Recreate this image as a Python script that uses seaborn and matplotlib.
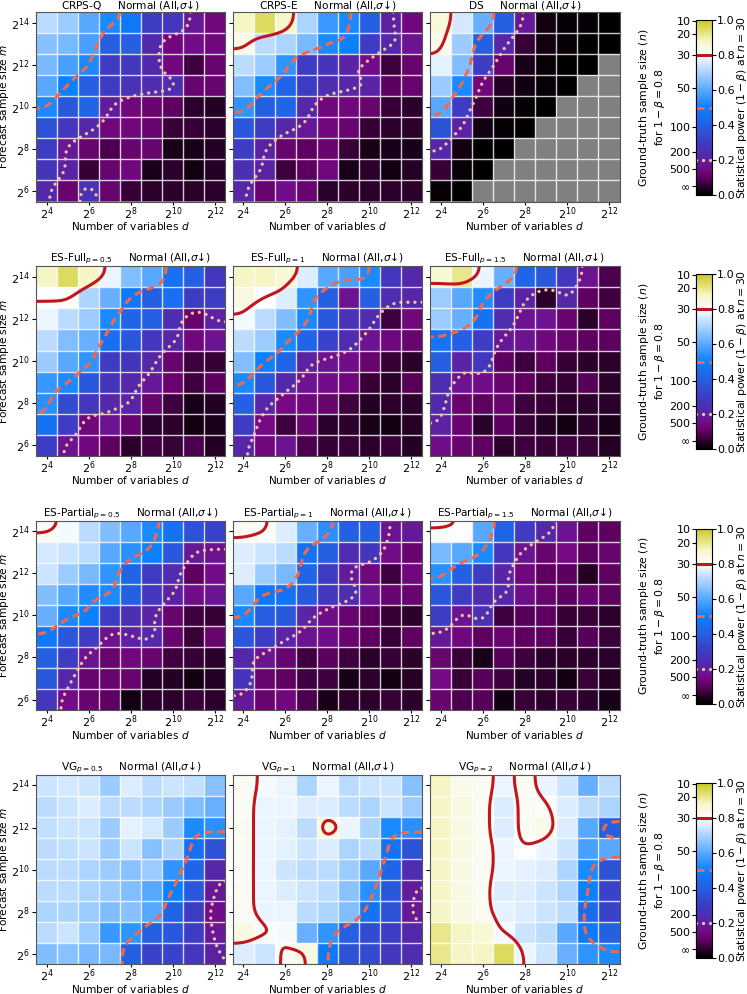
import numpy as np
import pandas as pd
import matplotlib
matplotlib.use("Agg")
import matplotlib.pyplot as plt
from matplotlib.colors import LinearSegmentedColormap, Normalize
from matplotlib.cm import ScalarMappable
import seaborn as sns

# ── Grid ──────────────────────────────────────────────────────────────────────
log2_d = [4, 5, 6, 7, 8, 9, 10, 11, 12]
log2_m = [14, 13, 12, 11, 10, 9, 8, 7, 6]          # top row first

# ── Statistical power (%), rows m=2^14 .. 2^6, cols d=2^4 .. 2^12 ─────────────
crps_q = [[72, 68, 60, 52, 48, 30, 28, 18, 14],
          [66, 64, 58, 40, 40, 23, 14, 16, 14],
          [64, 58, 52, 30, 28, 23, 14,  7, 12],
          [60, 50, 40, 30, 26, 24, 24, 12, 12],
          [52, 38, 42, 19, 14, 12, 10,  5,  4],
          [36, 28, 22, 14, 14, 12,  6,  6,  5],
          [30, 18, 12,  8, 12, 12,  3,  3,  4],
          [27, 20,  6, 12, 14,  3,  5,  2,  4],
          [22, 12, 26, 12,  6,  5,  5,  5,  5]]
crps_e = [[88, 95, 87, 70, 56, 52, 40, 20, 14],
          [83, 72, 70, 64, 52, 50, 30, 22, 17],
          [72, 68, 55, 30, 27, 21, 16,  7, 12],
          [65, 52, 42, 30, 24, 22, 21, 10, 12],
          [55, 40, 42, 22, 14, 14, 12,  6,  5],
          [38, 30, 22, 18, 14, 12,  6,  5,  5],
          [30, 20, 12, 10, 12,  6,  3,  3,  3],
          [25, 20,  7, 10, 14,  3,  5,  2,  4],
          [22, 12, 16, 12,  5,  5,  5,  5,  5]]
ds = [[85, 75, 62, 40, 18,  2,  1,  1,  0],
      [83, 68, 40, 22,  6,  2,  1,  0,  0],
      [77, 65, 30, 12,  3,  1,  0,  0, np.nan],
      [68, 52, 14,  4,  2,  1,  0, np.nan, np.nan],
      [60, 30,  7,  2,  1,  0, np.nan, np.nan, np.nan],
      [37, 20,  2,  1,  0, np.nan, np.nan, np.nan, np.nan],
      [22,  2,  0,  0, np.nan, np.nan, np.nan, np.nan, np.nan],
      [ 6,  1,  0, np.nan, np.nan, np.nan, np.nan, np.nan, np.nan],
      [ 1,  0, np.nan, np.nan, np.nan, np.nan, np.nan, np.nan, np.nan]]
es_full_05 = [[88, 95, 88, 78, 65, 60, 45, 40, 28],
              [80, 81, 70, 62, 48, 40, 45, 30, 30],
              [78, 72, 68, 52, 42, 40, 24, 12, 20],
              [72, 65, 62, 45, 38, 28, 22, 14, 17],
              [68, 60, 55, 30, 27, 22, 12,  7,  6],
              [56, 52, 38, 27, 22, 18, 12,  7, 10],
              [54, 34, 28, 22, 21, 12,  7,  3,  4],
              [46, 30, 14, 17, 12,  5,  5,  2,  3],
              [30, 17, 14, 10,  5,  7,  6,  8,  4]]
es_full_1 = [[88, 88, 86, 76, 60, 58, 52, 28, 22],
             [84, 80, 76, 55, 40, 17, 40, 24, 22],
             [79, 72, 65, 52, 38, 26, 24,  7, 14],
             [72, 68, 52, 42, 32, 24, 17, 14, 12],
             [65, 50, 42, 20, 17, 16, 12,  6,  5],
             [52, 38, 23, 17, 16, 14,  6,  5,  9],
             [40, 22, 15, 14, 12,  7,  4,  5,  5],
             [30, 15,  7, 12,  5,  5,  3,  2,  4],
             [22, 14, 17,  8,  6,  6,  5,  6,  4]]
es_full_15 = [[86, 92, 78, 62, 42, 38, 28, 17,  8],
              [68, 60, 53, 30, 20,  5, 22, 10,  7],
              [68, 62, 46, 24, 17, 17, 12,  5, 10],
              [46, 40, 30, 18, 17, 14, 12, 10, 10],
              [40, 21, 28, 10,  7, 10,  6,  5,  5],
              [24, 17, 16, 12, 10,  7,  6,  9,  5],
              [23, 12, 10, 12,  7,  6,  5,  5,  5],
              [20, 12,  5, 10,  6,  4,  2,  5,  3],
              [16, 12, 10,  5,  7,  6,  7,  6,  4]]
es_part_05 = [[81, 79, 72, 65, 60, 52, 46, 36, 32],
              [75, 74, 72, 60, 54, 50, 38, 18, 17],
              [74, 68, 64, 55, 42, 30, 24, 10, 16],
              [65, 60, 53, 52, 40, 28, 20, 16, 17],
              [62, 52, 50, 30, 25, 21, 12,  7,  6],
              [48, 38, 30, 17, 20, 23, 12,  6, 12],
              [40, 30, 17, 12, 14, 12,  7,  6,  5],
              [38, 22, 12, 12, 12,  4,  4,  2,  4],
              [28, 16, 12, 10,  2,  5,  5,  6,  5]]
es_part_1 = [[82, 81, 76, 62, 54, 40, 40, 17, 18],
             [76, 74, 72, 46, 40, 24, 27, 16, 12],
             [76, 68, 64, 42, 30, 19, 14,  7, 14],
             [60, 48, 46, 38, 28, 24, 17, 12, 12],
             [52, 40, 38, 21, 16, 12, 10,  6,  5],
             [38, 30, 21, 17, 16, 12, 10,  6, 10],
             [22, 17, 12,  7, 10,  7,  5,  6,  5],
             [27, 12, 10,  7,  7,  3,  5,  2,  4],
             [18, 12, 14,  8,  3,  5,  5,  6,  5]]
es_part_15 = [[81, 80, 60, 42, 30, 22, 17, 10, 10],
              [64, 60, 52, 28, 17, 12, 15, 10, 12],
              [54, 40, 30, 21, 14, 10, 10,  4, 10],
              [38, 30, 24, 22, 16, 12, 10, 12, 10],
              [30, 17, 25,  7,  9, 10,  6,  6,  5],
              [18, 14, 10, 12, 10, 10,  6,  9,  6],
              [12,  6,  3,  9,  7,  5,  5,  5,  5],
              [15,  6,  9,  7,  4,  5,  2,  6,  4],
              [12,  8,  9,  2,  6,  5,  6,  5,  3]]
vg_05 = [[74, 75, 74, 68, 76, 72, 74, 73, 66],
         [72, 74, 76, 72, 72, 70, 68, 65, 62],
         [73, 74, 74, 68, 77, 75, 68, 52, 54],
         [72, 73, 74, 68, 74, 66, 70, 45, 36],
         [72, 72, 70, 68, 66, 68, 55, 42, 22],
         [72, 72, 70, 68, 65, 60, 50, 38, 18],
         [70, 70, 68, 65, 66, 60, 42, 30, 16],
         [72, 74, 68, 56, 55, 40, 38, 30, 18],
         [65, 66, 64, 64, 40, 32, 32, 28, 20]]
vg_1 = [[82, 79, 78, 70, 78, 72, 74, 74, 66],
        [82, 78, 78, 76, 76, 72, 70, 74, 68],
        [82, 78, 77, 72, 85, 78, 70, 52, 54],
        [82, 78, 77, 74, 76, 70, 72, 46, 36],
        [82, 78, 74, 72, 72, 68, 60, 42, 24],
        [82, 78, 76, 74, 72, 66, 54, 38, 19],
        [82, 78, 78, 72, 70, 65, 46, 36, 18],
        [84, 81, 79, 62, 55, 40, 34, 30, 22],
        [76, 74, 82, 84, 48, 36, 34, 28, 24]]
vg_2 = [[88, 83, 82, 78, 82, 78, 74, 62, 72],
        [88, 84, 82, 76, 82, 81, 76, 72, 70],
        [88, 84, 82, 76, 82, 83, 76, 60, 40],
        [88, 84, 82, 78, 80, 78, 74, 58, 60],
        [88, 84, 82, 78, 77, 76, 70, 52, 36],
        [88, 84, 82, 76, 76, 74, 70, 50, 32],
        [88, 84, 82, 77, 76, 74, 72, 44, 32],
        [92, 88, 86, 79, 74, 72, 60, 48, 40],
        [92, 88, 88, 95, 78, 74, 62, 55, 52]]

panels = [
    [("CRPS-Q", crps_q), ("CRPS-E", crps_e), ("DS", ds)],
    [(r"ES-Full$_{p=0.5}$", es_full_05), (r"ES-Full$_{p=1}$", es_full_1),
     (r"ES-Full$_{p=1.5}$", es_full_15)],
    [(r"ES-Partial$_{p=0.5}$", es_part_05), (r"ES-Partial$_{p=1}$", es_part_1),
     (r"ES-Partial$_{p=1.5}$", es_part_15)],
    [(r"VG$_{p=0.5}$", vg_05), (r"VG$_{p=1}$", vg_1), (r"VG$_{p=2}$", vg_2)],
]

# contour levels (power) and the matching n ticks on the colorbar
levels = [0.8, 0.5, 0.2]
n_labels = ["10", "20", "30", "50", "100", "200", "500", r"$\infty$"]
n_power = [0.996, 0.919, 0.80, 0.611, 0.389, 0.248, 0.150, 0.05]

# ── Style ─────────────────────────────────────────────────────────────────────
RED, ORANGE, PEACH = "#c0161c", "#f2684c", "#f4c2a2"
cmap = LinearSegmentedColormap.from_list("power", [
    (0.00, "#000000"), (0.05, "#2e002e"), (0.10, "#600062"), (0.15, "#750a85"),
    (0.20, "#5b22a3"), (0.30, "#3c3dc4"), (0.40, "#255fe2"), (0.50, "#0a80ff"),
    (0.60, "#58a8ff"), (0.70, "#a9d3ff"), (0.80, "#fbfdff"), (0.88, "#f7f6c8"),
    (1.00, "#cbca1c")])
TICK_FS, LAB_FS, TITLE_FS = 8.0, 7.6, 7.6
CB_TICK_FS, CB_LAB_FS = 8.0, 7.8
DASH, DOT = (0, (2.6, 1.6)), (0, (0.01, 2.1))


def smooth_field(z, per=10, sigma=3.0):
    """bilinear upsample + gaussian blur, so contours run to the edges"""
    z = np.nan_to_num(np.asarray(z, dtype=float), nan=0.0)
    nr, nc = z.shape
    cx, cy = np.arange(nc) + 0.5, np.arange(nr) + 0.5
    fx = np.linspace(0, nc, nc * per + 1)
    fy = np.linspace(0, nr, nr * per + 1)
    tmp = np.array([np.interp(fx, cx, row) for row in z])
    fine = np.array([np.interp(fy, cy, col) for col in tmp.T]).T
    k = np.arange(-int(3 * sigma), int(3 * sigma) + 1)
    ker = np.exp(-0.5 * (k / sigma) ** 2)
    ker /= ker.sum()
    p = len(k) // 2
    f = np.pad(fine, p, mode="edge")
    f = np.apply_along_axis(lambda v: np.convolve(v, ker, mode="valid"), 0, f)
    f = np.apply_along_axis(lambda v: np.convolve(v, ker, mode="valid"), 1, f)
    return fx, fy, f


W, H = 747, 994
col_x = [36, 232.5, 430]
row_top = [12.0, 266.3, 520.6, 774.9]
SIZE = 189.5

fig = plt.figure(figsize=(W / 100, H / 100), dpi=100)

for r, row in enumerate(panels):
    for c, (name, vals) in enumerate(row):
        ax = fig.add_axes([col_x[c] / W, 1 - (row_top[r] + SIZE) / H,
                           SIZE / W, SIZE / H])
        df = pd.DataFrame(np.array(vals, dtype=float) / 100,
                          index=log2_m, columns=log2_d)
        sns.heatmap(df, ax=ax, cmap=cmap, vmin=0, vmax=1, cbar=False,
                    xticklabels=False, yticklabels=False)
        ax.set_facecolor("#808080")
        ax.hlines(np.arange(1, 9), 0, 9, colors="white", lw=1.0, alpha=0.8)
        ax.vlines(np.arange(1, 9), 0, 9, colors="white", lw=1.0, alpha=0.8)

        fx, fy, f = smooth_field(df.values)
        ax.contour(fx, fy, f, levels=[levels[0]], colors=RED,
                   linewidths=2.2, linestyles="solid")
        ax.contour(fx, fy, f, levels=[levels[1]], colors=ORANGE,
                   linewidths=2.2, linestyles=[DASH])
        dots = ax.contour(fx, fy, f, levels=[levels[2]], colors=PEACH,
                          linewidths=2.4, linestyles=[DOT])
        dots.set_capstyle("round")
        ax.set_xlim(0, 9)
        ax.set_ylim(9, 0)

        ax.set_xticks(np.arange(0, 9, 2) + 0.5,
                      [f"$2^{{{v}}}$" for v in log2_d[::2]], rotation=0)
        ax.set_yticks(np.arange(0, 9, 2) + 0.5,
                      [f"$2^{{{v}}}$" for v in log2_m[::2]], rotation=0)
        ax.tick_params(axis="y", length=3, width=0.8, labelsize=TICK_FS, pad=1.5)
        ax.tick_params(axis="x", length=2, width=0.8, labelsize=TICK_FS, pad=0.5)
        if c == 0:
            ax.set_ylabel("Forecast sample size $m$", fontsize=LAB_FS, labelpad=0)
        else:
            ax.set_yticklabels([])
            ax.set_ylabel("")
        ax.set_xlabel("Number of variables $d$", fontsize=LAB_FS, labelpad=-1.0)
        for s in ax.spines.values():
            s.set_visible(True)
            s.set_color("#555555")
            s.set_linewidth(0.8)
        ax.set_title(name + r"     Normal (All,$\sigma$↓)", fontsize=TITLE_FS, pad=1.5)

    # colorbar for the row
    cax = fig.add_axes([696 / W, 1 - (row_top[r] + 8.0 + 175) / H,
                        15.5 / W, 175 / H])
    cb = fig.colorbar(ScalarMappable(norm=Normalize(0, 1), cmap=cmap), cax=cax)
    cb.set_ticks([0, 0.2, 0.4, 0.6, 0.8, 1.0])
    cb.ax.set_yticklabels(["0.0", "0.2", "0.4", "0.6", "0.8", "1.0"])
    cb.ax.tick_params(labelsize=CB_TICK_FS, length=3, pad=1)
    cb.outline.set_linewidth(0.8)
    cb.set_label(r"Statistical power $(1-\beta)$ at $n=30$", fontsize=CB_LAB_FS,
                 labelpad=0)
    cax.axhline(levels[0], color=RED, lw=2.2)
    cax.axhline(levels[1], color=ORANGE, lw=2.2, ls=DASH)
    cax.axhline(levels[2], color=PEACH, lw=2.4, ls=DOT, dash_capstyle="round")
    sec = cax.secondary_yaxis("left")
    sec.set_yticks(n_power, n_labels)
    sec.tick_params(labelsize=CB_TICK_FS, length=3, pad=1)
    sec.set_ylabel("Ground-truth sample size ($n$)\nfor $1-\\beta=0.8$",
                   fontsize=CB_LAB_FS, labelpad=2)

fig.savefig("out.png", dpi=100)
